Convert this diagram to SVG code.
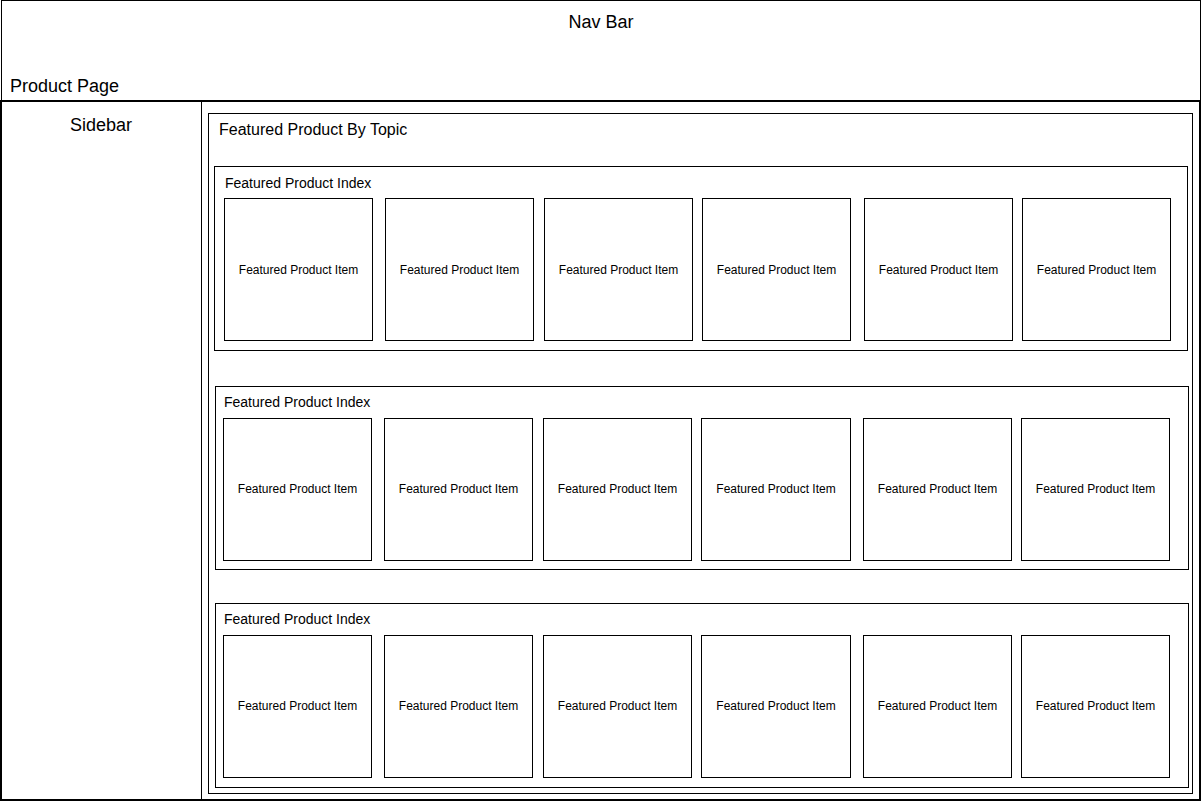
<svg xmlns="http://www.w3.org/2000/svg" width="1202" height="802" viewBox="0 0 1202 802">
<style>
rect{fill:none;stroke:#000;stroke-width:1}
.thick{stroke-width:2}
text{font-family:"Liberation Sans",Arial,sans-serif;fill:#000}
.big{font-size:18px}
.topic{font-size:16px}
.mid{font-size:14px}
.sm{font-size:12px;text-anchor:middle}
</style>
<rect x="0" y="0" width="1202" height="802" style="fill:#fff;stroke:none"/>
<g id="navbar">
<rect x="1.5" y="0.5" width="1199" height="100"/>
<text class="big" x="601" y="28" text-anchor="middle">Nav Bar</text>
<text class="big" x="10" y="92">Product Page</text>
</g>
<g id="page">
<rect class="thick" x="1" y="101" width="1199" height="699"/>
</g>
<g id="sidebar">
<rect x="1.5" y="100.5" width="200" height="700"/>
<text class="big" x="101" y="131" text-anchor="middle">Sidebar</text>
</g>
<g id="content">
<path d="M201.5,101H1200" style="fill:none;stroke:#000;stroke-width:2"/>
</g>
<g id="topic">
<rect x="208.5" y="113.5" width="984" height="680"/>
<text class="topic" x="219" y="135">Featured Product By Topic</text>
</g>
<g id="index1">
<rect x="214.5" y="166.5" width="973" height="184"/>
<text class="mid" x="225" y="188">Featured Product Index</text>
</g>
<g id="index2">
<rect x="215.5" y="386.5" width="973" height="183"/>
<text class="mid" x="224" y="407">Featured Product Index</text>
</g>
<g id="index3">
<rect x="215.5" y="603.5" width="973" height="184"/>
<text class="mid" x="224" y="624">Featured Product Index</text>
</g>
<g id="items1">
<g id="i1-1"><rect x="224.5" y="198.5" width="148" height="142"/><text class="sm" x="298.5" y="274">Featured Product Item</text></g>
<g id="i1-2"><rect x="385.5" y="198.5" width="148" height="142"/><text class="sm" x="459.5" y="274">Featured Product Item</text></g>
<g id="i1-3"><rect x="544.5" y="198.5" width="148" height="142"/><text class="sm" x="618.5" y="274">Featured Product Item</text></g>
<g id="i1-4"><rect x="702.5" y="198.5" width="148" height="142"/><text class="sm" x="776.5" y="274">Featured Product Item</text></g>
<g id="i1-5"><rect x="864.5" y="198.5" width="148" height="142"/><text class="sm" x="938.5" y="274">Featured Product Item</text></g>
<g id="i1-6"><rect x="1022.5" y="198.5" width="148" height="142"/><text class="sm" x="1096.5" y="274">Featured Product Item</text></g>
</g>
<g id="items2">
<g id="i2-1"><rect x="223.5" y="418.5" width="148" height="142"/><text class="sm" x="297.5" y="493">Featured Product Item</text></g>
<g id="i2-2"><rect x="384.5" y="418.5" width="148" height="142"/><text class="sm" x="458.5" y="493">Featured Product Item</text></g>
<g id="i2-3"><rect x="543.5" y="418.5" width="148" height="142"/><text class="sm" x="617.5" y="493">Featured Product Item</text></g>
<g id="i2-4"><rect x="701.5" y="418.5" width="149" height="142"/><text class="sm" x="776" y="493">Featured Product Item</text></g>
<g id="i2-5"><rect x="863.5" y="418.5" width="148" height="142"/><text class="sm" x="937.5" y="493">Featured Product Item</text></g>
<g id="i2-6"><rect x="1021.5" y="418.5" width="148" height="142"/><text class="sm" x="1095.5" y="493">Featured Product Item</text></g>
</g>
<g id="items3">
<g id="i3-1"><rect x="223.5" y="635.5" width="148" height="142"/><text class="sm" x="297.5" y="710">Featured Product Item</text></g>
<g id="i3-2"><rect x="384.5" y="635.5" width="148" height="142"/><text class="sm" x="458.5" y="710">Featured Product Item</text></g>
<g id="i3-3"><rect x="543.5" y="635.5" width="148" height="142"/><text class="sm" x="617.5" y="710">Featured Product Item</text></g>
<g id="i3-4"><rect x="701.5" y="635.5" width="149" height="142"/><text class="sm" x="776" y="710">Featured Product Item</text></g>
<g id="i3-5"><rect x="863.5" y="635.5" width="148" height="142"/><text class="sm" x="937.5" y="710">Featured Product Item</text></g>
<g id="i3-6"><rect x="1021.5" y="635.5" width="148" height="142"/><text class="sm" x="1095.5" y="710">Featured Product Item</text></g>
</g>
<g id="connectors"></g>
</svg>
